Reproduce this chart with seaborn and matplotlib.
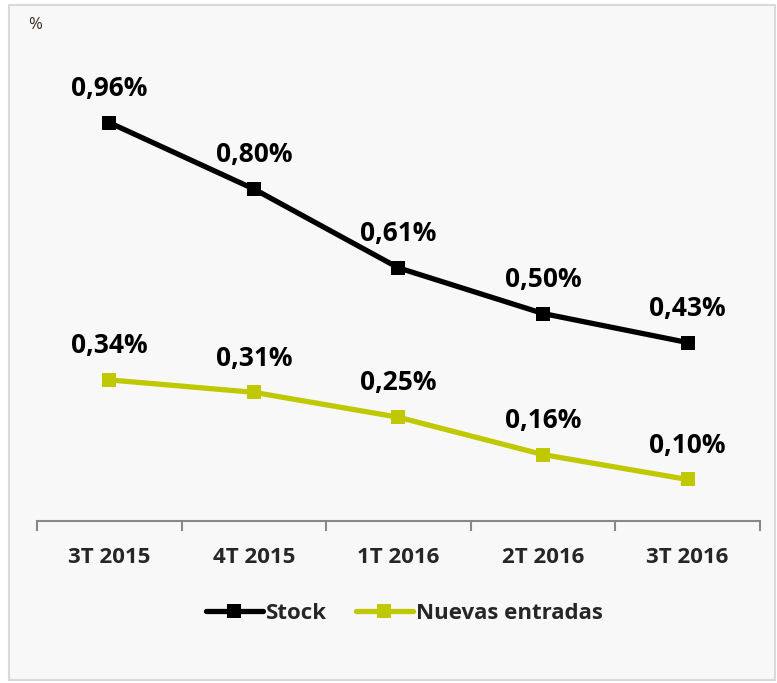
import matplotlib
matplotlib.use('Agg')
import matplotlib.pyplot as plt
import seaborn as sns
import pandas as pd
from matplotlib.patches import Rectangle

trimestres = ['3T 2015', '4T 2015', '1T 2016', '2T 2016', '3T 2016']
stock = [0.96, 0.80, 0.61, 0.50, 0.43]
nuevas = [0.34, 0.31, 0.25, 0.16, 0.10]

sns.set_theme(style='white')
plt.rcParams['font.family'] = ['Open Sans', 'DejaVu Sans']

bg = '#f8f8f8'
fig = plt.figure(figsize=(7.77, 6.83), dpi=100, facecolor='white')
fig.patches.append(Rectangle((0.011, 0.004), 0.986, 0.989, transform=fig.transFigure,
                             facecolor=bg, edgecolor='#d9d9d9', linewidth=1.5, zorder=-1))
ax = fig.add_axes([0.0476, 0.2372, 0.9304, 0.7291])
ax.set_facecolor('none')

df = pd.DataFrame({'x': list(range(len(trimestres))) * 2,
                   'valor': stock + nuevas,
                   'serie': ['Stock'] * 5 + ['Nuevas entradas'] * 5})
colores = {'Stock': 'black', 'Nuevas entradas': '#bfc800'}
sns.lineplot(data=df, x='x', y='valor', hue='serie', palette=colores, marker='s',
             markersize=10, markeredgewidth=0, linewidth=3.8, ax=ax, legend=False)

for serie, vals in [('Stock', stock), ('Nuevas entradas', nuevas)]:
    for i, v in enumerate(vals):
        ax.annotate(f'{v:.2f}%'.replace('.', ','), (i, v), xytext=(0, 15),
                    textcoords='offset points', ha='center', va='bottom',
                    fontsize=19, fontweight='bold', color='black')

ax.set_xlim(-0.5, 4.5)
ax.set_ylim(0, 1.2)
ax.set_xticks(range(len(trimestres)))
ax.set_xticklabels(trimestres, fontsize=16, fontweight='bold')
ax.tick_params(axis='x', which='major', length=0, pad=19)
ax.set_xticks([i - 0.5 for i in range(len(trimestres) + 1)], minor=True)
ax.tick_params(axis='x', which='minor', bottom=True, length=7, width=1.5,
               color='#888888', direction='out')
ax.set_yticks([])
ax.set_xlabel('')
ax.set_ylabel('')
for s in ['top', 'right', 'left']:
    ax.spines[s].set_visible(False)
ax.spines['bottom'].set_color('#888888')
ax.spines['bottom'].set_linewidth(1.5)

fig.text(0.036, 0.964, '%', fontsize=12, color='#3a2a20', ha='left', va='center')

handles = [plt.Line2D([], [], color=colores[k], marker='s', markersize=10, linewidth=3.8,
                      markeredgewidth=0, label=k) for k in ['Stock', 'Nuevas entradas']]
fig.legend(handles=handles, loc='center', bbox_to_anchor=(0.52, 0.102), ncol=2, frameon=False,
           prop={'size': 16, 'weight': 'bold'}, handlelength=2.6, handletextpad=0.1,
           columnspacing=1.3)

fig.savefig('out.png', dpi=100, facecolor='white')
